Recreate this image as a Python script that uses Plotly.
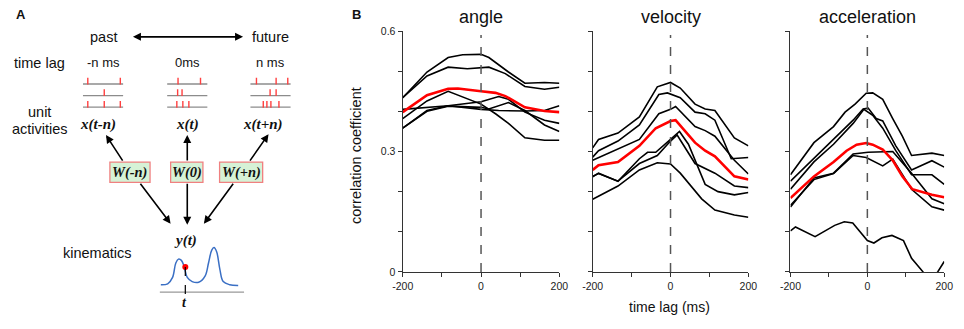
import plotly.graph_objects as go

# ---------------- Panel B data (time lag in ms, correlation coefficient) ----------------
ang_t1 = [-200, -138, -84, -47, 0, 20, 70, 112, 162, 200]
ang_v1 = [0.434, 0.498, 0.534, 0.541, 0.542, 0.534, 0.498, 0.470, 0.472, 0.470]
ang_t2 = [-200, -138, -84, -35, 20, 62, 112, 162, 200]
ang_v2 = [0.434, 0.488, 0.510, 0.506, 0.510, 0.494, 0.462, 0.455, 0.460]
ang_t3 = [-200, -138, -84, -40, 0, 37, 70, 112, 162, 200]
ang_v3 = [0.382, 0.426, 0.450, 0.434, 0.418, 0.394, 0.370, 0.334, 0.328, 0.328]
ang_t4 = [-200, -138, -84, 0, 45, 112, 162, 200]
ang_v4 = [0.405, 0.410, 0.414, 0.405, 0.402, 0.401, 0.402, 0.414]
ang_t5 = [-200, -138, -84, 0, 45, 70, 112, 162, 200]
ang_v5 = [0.358, 0.402, 0.414, 0.424, 0.437, 0.430, 0.398, 0.378, 0.370]
ang_t6 = [-200, -138, -84, 0, 20, 70, 112, 162, 200]
ang_v6 = [0.358, 0.400, 0.413, 0.410, 0.406, 0.422, 0.402, 0.366, 0.350]
ang_tm = [-200, -138, -84, -59, 0, 37, 62, 112, 162, 200]
ang_vm = [0.398, 0.440, 0.456, 0.457, 0.450, 0.446, 0.438, 0.410, 0.401, 0.398]

vel_t1 = [-200, -185, -135, -80, -34, 0, 25, 63, 89, 114, 164, 200]
vel_v1 = [0.309, 0.330, 0.346, 0.386, 0.461, 0.472, 0.458, 0.418, 0.406, 0.402, 0.334, 0.314]
vel_t2 = [-200, -185, -135, -80, -30, -8, 25, 63, 89, 114, 156, 200]
vel_v2 = [0.286, 0.302, 0.326, 0.366, 0.442, 0.446, 0.434, 0.398, 0.394, 0.378, 0.282, 0.285]
vel_t3 = [-200, -135, -80, -30, 0, 13, 63, 89, 114, 164, 200]
vel_v3 = [0.278, 0.306, 0.330, 0.394, 0.405, 0.412, 0.362, 0.352, 0.338, 0.278, 0.244]
vel_t4 = [-200, -185, -135, -80, -59, -38, 0, 23, 46, 89, 122, 164, 200]
vel_v4 = [0.237, 0.246, 0.226, 0.282, 0.298, 0.298, 0.330, 0.350, 0.318, 0.218, 0.200, 0.192, 0.198]
vel_t5 = [-200, -185, -135, -80, -34, 0, 17, 63, 114, 164, 200]
vel_v5 = [0.238, 0.245, 0.226, 0.270, 0.290, 0.326, 0.341, 0.270, 0.246, 0.214, 0.210]
vel_t6 = [-200, -135, -80, -34, 0, 25, 80, 114, 164, 200]
vel_v6 = [0.181, 0.214, 0.254, 0.272, 0.269, 0.246, 0.182, 0.154, 0.142, 0.136]
vel_tm = [-200, -185, -135, -80, -38, 0, 13, 63, 89, 114, 164, 200]
vel_vm = [0.254, 0.266, 0.274, 0.314, 0.358, 0.376, 0.378, 0.322, 0.302, 0.288, 0.238, 0.230]

acc_t1 = [-200, -139, -88, -58, -32, -3, 14, 40, 66, 91, 115, 168, 200]
acc_v1 = [0.242, 0.322, 0.362, 0.398, 0.418, 0.445, 0.446, 0.430, 0.382, 0.338, 0.290, 0.296, 0.290]
acc_t2 = [-200, -139, -88, -37, -11, 2, 23, 40, 74, 115, 168, 200]
acc_v2 = [0.226, 0.282, 0.330, 0.378, 0.406, 0.408, 0.382, 0.376, 0.314, 0.254, 0.277, 0.261]
acc_t3 = [-200, -139, -88, -37, -9, 14, 40, 74, 115, 168, 200]
acc_v3 = [0.206, 0.274, 0.318, 0.370, 0.405, 0.390, 0.358, 0.302, 0.242, 0.242, 0.218]
acc_t4 = [-200, -139, -88, -37, 2, 66, 115, 168, 200]
acc_v4 = [0.162, 0.234, 0.246, 0.294, 0.298, 0.300, 0.246, 0.182, 0.170]
acc_t5 = [-200, -139, -88, -37, -3, 40, 66, 115, 168, 200]
acc_v5 = [0.166, 0.230, 0.245, 0.290, 0.285, 0.264, 0.281, 0.206, 0.162, 0.154]
acc_t6 = [-200, -187, -136, -85, -60, -38, 0, 17, 38, 64, 94, 115, 145, 165, 183, 200]
acc_v6 = [0.102, 0.112, 0.088, 0.116, 0.125, 0.122, 0.078, 0.072, 0.085, 0.091, 0.078, 0.034, 0.0, -0.02, 0.0, 0.026]
acc_tm = [-200, -139, -88, -54, -28, -3, 14, 40, 66, 91, 117, 168, 200]
acc_vm = [0.184, 0.238, 0.274, 0.302, 0.317, 0.321, 0.317, 0.305, 0.278, 0.238, 0.206, 0.192, 0.186]

panel_titles = ["angle", "velocity", "acceleration"]
x_tickvals = [-200, -100, 0, 100, 200]
x_ticktext = ["-200", "", "0", "", "200"]
y_tickvals = [0, 0.1, 0.2, 0.3, 0.4, 0.5, 0.6]
y_ticktext = ["0", "", "", "0.3", "", "", "0.6"]

# ---------------- Panel A schematic content ----------------
lag_labels = ["-n ms", "0ms", "n ms"]
x_labels = ["x(t-n)", "x(t)", "x(t+n)"]
w_labels = ["W(-n)", "W(0)", "W(+n)"]
spikes = [
    [[0.12, 0.93], [0.53], [0.12, 0.53, 0.93]],
    [[0.27, 0.83], [0.26, 0.37], [0.24, 0.39, 0.54]],
    [[0.15, 0.64, 0.93], [0.49, 0.64], [0.32, 0.41, 0.51, 0.71]],
]
kin_x = [153, 160, 165, 168.3, 171, 174, 176.7, 180, 185, 191.7, 198.3, 201.7, 205, 207.3, 210, 213.3, 216.7, 223.3, 232]
kin_y = [289.3, 288.3, 281.7, 266.7, 262.7, 264, 270, 281.7, 286, 286.7, 280, 266.7, 253.3, 250.7, 255, 273.3, 286, 289.3, 290]

W, H = 964, 329
SANS = "Arial, Liberation Sans, sans-serif"
SERIF = "Times New Roman, Liberation Serif, serif"


def px(x):
    return x / W


def py(y):
    return 1 - y / H


fig = go.Figure()

panels = [
    ("x", "y", [(ang_t1, ang_v1), (ang_t2, ang_v2), (ang_t3, ang_v3), (ang_t4, ang_v4), (ang_t5, ang_v5), (ang_t6, ang_v6)], (ang_tm, ang_vm)),
    ("x2", "y2", [(vel_t1, vel_v1), (vel_t2, vel_v2), (vel_t3, vel_v3), (vel_t4, vel_v4), (vel_t5, vel_v5), (vel_t6, vel_v6)], (vel_tm, vel_vm)),
    ("x3", "y3", [(acc_t1, acc_v1), (acc_t2, acc_v2), (acc_t3, acc_v3), (acc_t4, acc_v4), (acc_t5, acc_v5), (acc_t6, acc_v6)], (acc_tm, acc_vm)),
]
for xa, ya, blacks, red in panels:
    for t, v in blacks:
        fig.add_trace(go.Scatter(x=t, y=v, mode="lines", line=dict(color="black", width=1.6),
                                 xaxis=xa, yaxis=ya, showlegend=False, hoverinfo="skip"))
    fig.add_trace(go.Scatter(x=red[0], y=red[1], mode="lines", line=dict(color="#ff0000", width=2.6),
                             xaxis=xa, yaxis=ya, showlegend=False, hoverinfo="skip"))
    fig.add_shape(type="line", xref=xa, yref=ya, x0=0, x1=0, y0=0, y1=0.59,
                  line=dict(color="#555555", width=1.5, dash="dash"))

x_domains = [[400 / W, 560 / W], [594 / W, 753 / W], [796 / W, 953 / W]]
y_domain = [py(276), py(26)]
axis_common = dict(showgrid=False, zeroline=False, showline=True, linecolor="#333333", linewidth=1.3,
                   ticks="outside", ticklen=4, tickcolor="#333333", tickwidth=1.2,
                   tickfont=dict(family=SANS, size=10.5, color="#222222"))
layout_axes = {}
for i, (dom, title) in enumerate(zip(x_domains, panel_titles)):
    sfx = "" if i == 0 else str(i + 1)
    layout_axes["xaxis" + sfx] = dict(domain=dom, range=[-200, 200], tickvals=x_tickvals, ticktext=x_ticktext,
                                      anchor="y" + sfx, **axis_common)
    layout_axes["yaxis" + sfx] = dict(domain=y_domain, range=[0, 0.6], tickvals=y_tickvals,
                                      ticktext=y_ticktext if i == 0 else [""] * len(y_tickvals),
                                      anchor="x" + sfx, **axis_common)
layout_axes["xaxis4"] = dict(domain=[0, 330 / W], range=[0, 330], visible=False, anchor="y4")
layout_axes["yaxis4"] = dict(domain=[0, 1], range=[H, 0], visible=False, anchor="x4")

annotations = []
shapes = []


def txt(x, y, s, size=14, family=SANS, bold=False, italic=False, angle=0, xanchor="center", color="#111111"):
    if bold:
        s = "<b>" + s + "</b>"
    if italic:
        s = "<i>" + s + "</i>"
    annotations.append(dict(x=px(x), y=py(y), xref="paper", yref="paper", text=s, showarrow=False,
                            font=dict(family=family, size=size, color=color), xanchor=xanchor,
                            yanchor="middle", textangle=angle))


def arrow(hx, hy, tx, ty, both=False):
    annotations.append(dict(x=hx, y=hy, ax=tx, ay=ty, xref="x4", yref="y4", axref="x4", ayref="y4",
                            showarrow=True, arrowhead=2, arrowsize=1, arrowwidth=1.6, arrowcolor="black",
                            arrowside="end+start" if both else "end", text=""))


for cx, title in zip([480, 674, 875], panel_titles):
    txt(cx, 11, title, size=18)
txt(353, 155, "correlation coefficient", size=14.5, angle=-90)
txt(672, 312, "time lag (ms)", size=14)
txt(346, 9, "B", size=13, bold=True, xanchor="left")

txt(3, 9, "A", size=13, bold=True, xanchor="left")
txt(94, 32, "past", size=14.5)
txt(265, 32, "future", size=14.5)
arrow(237, 32, 123, 32, both=True)
txt(1, 59, "time lag", size=14.5, xanchor="left")
group_cx = [94, 180, 265]
for cx, lab in zip(group_cx, lag_labels):
    txt(cx, 59, lab, size=13)

row_y = [81, 93, 105]
gx, gy = [], []
sx, sy = [], []
for cx, grp in zip(group_cx, spikes):
    x0, x1 = cx - 20.5, cx + 20.5
    for ry, row in zip(row_y, grp):
        gx += [x0, x1, None]
        gy += [ry, ry, None]
        for s in row:
            xs = x0 + s * (x1 - x0)
            sx += [xs, xs, None]
            sy += [ry - 6.5, ry + 0.5, None]
fig.add_trace(go.Scatter(x=gx, y=gy, mode="lines", line=dict(color="#8c8c8c", width=1.4),
                         xaxis="x4", yaxis="y4", showlegend=False, hoverinfo="skip"))
fig.add_trace(go.Scatter(x=sx, y=sy, mode="lines", line=dict(color="#ff4040", width=1.4),
                         xaxis="x4", yaxis="y4", showlegend=False, hoverinfo="skip"))

txt(29, 110, "unit", size=14.5)
txt(30, 128, "activities", size=14.5)
for cx, lab in zip([89, 180, 257], x_labels):
    txt(cx, 123, lab, size=15, family=SERIF, bold=True, italic=True)

boxes = [(101, 142), (163, 196), (213, 257)]
for (bx0, bx1), lab in zip(boxes, w_labels):
    shapes.append(dict(type="rect", xref="x4", yref="y4", x0=bx0, x1=bx1, y0=162, y1=183,
                       fillcolor="#d6f2d6", line=dict(color="#f08080", width=1.3), layer="below"))
    txt((bx0 + bx1) / 2, 172.5, lab, size=14.5, family=SERIF, bold=True, italic=True)

for (hx, hy, tx, ty) in [(97, 134, 115, 162), (180, 134, 180, 162), (263, 133, 243, 162)]:
    arrow(hx, hy, tx, ty)
for (hx, hy, tx, ty) in [(163, 226, 131, 183), (180, 227, 180, 183), (197, 226, 228, 183)]:
    arrow(hx, hy, tx, ty)

txt(178, 243, "y(t)", size=15, family=SERIF, bold=True, italic=True)
txt(88, 256, "kinematics", size=14.5)

fig.add_trace(go.Scatter(x=kin_x, y=kin_y, mode="lines", line=dict(color="#3a6fc4", width=1.5, shape="spline"),
                         xaxis="x4", yaxis="y4", showlegend=False, hoverinfo="skip"))
shapes.append(dict(type="line", xref="x4", yref="y4", x0=152, x1=238, y0=297, y1=297,
                   line=dict(color="#999999", width=1.3)))
shapes.append(dict(type="line", xref="x4", yref="y4", x0=178, x1=178, y0=271, y1=301,
                   line=dict(color="black", width=1.2, dash="dash")))
fig.add_trace(go.Scatter(x=[178], y=[271], mode="markers", marker=dict(color="#ff0000", size=6),
                         xaxis="x4", yaxis="y4", showlegend=False, hoverinfo="skip"))
txt(177, 308, "t", size=14, family=SERIF, bold=True, italic=True)

fig.update_layout(width=W, height=H, margin=dict(l=0, r=0, t=0, b=0), paper_bgcolor="white",
                  plot_bgcolor="white", showlegend=False, annotations=annotations, shapes=fig.layout.shapes + tuple(shapes),
                  **layout_axes)
fig.write_html(
    "out.html", config={"displayModeBar": False},
    post_script=("document.documentElement.style.margin='0';document.body.style.margin='0';"
                 "document.body.style.overflow='hidden';var d=document.getElementById('{plot_id}');"
                 "d.style.position='fixed';d.style.left='0px';d.style.top='0px';"))
